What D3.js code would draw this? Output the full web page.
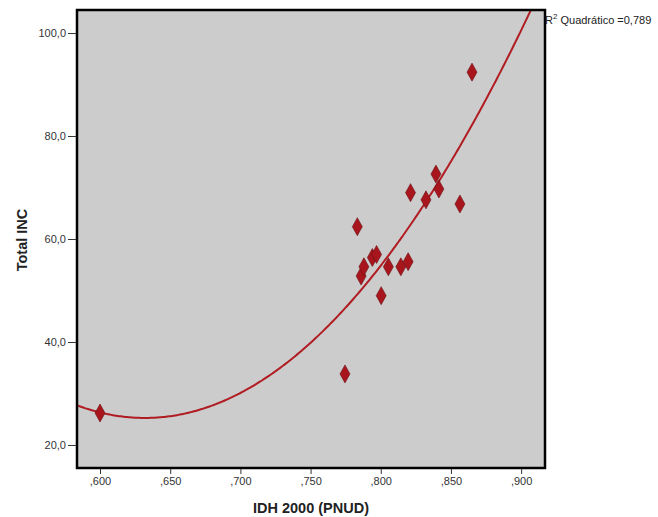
<!DOCTYPE html>
<html><head><meta charset="utf-8">
<script src="https://cdn.jsdelivr.net/npm/d3@7/dist/d3.min.js"></script>
<style>
body{margin:0;background:#fff;}
svg{display:block;font-family:"Liberation Sans",Arial,sans-serif;}
</style></head>
<body><svg id="c" width="658" height="517"></svg>
<script>
// Data
const idh = [0.600,0.7745,0.7833,0.786,0.788,0.794,0.797,0.8003,0.8054,0.8143,0.8195,0.8212,0.8322,0.8393,0.8414,0.8564,0.865];
const inc = [26.2,33.8,62.4,52.8,54.6,56.4,57.0,49.0,54.6,54.6,55.6,69.0,67.6,72.6,69.7,66.8,92.4];
const xTicks = [0.60,0.65,0.70,0.75,0.80,0.85,0.90];
const yTicks = [20,40,60,80,100];
const xTitle = "IDH 2000 (PNUD)";
const yTitle = "Total INC";
const r2Label = "0,789";

const svg = d3.select("#c");
const L=77,T=10,R=545,B=468;
const x = d3.scaleLinear().domain([0.5836,0.917]).range([L,R]);
const y = d3.scaleLinear().domain([15.53,104.47]).range([B,T]);

svg.append("rect").attr("x",L).attr("y",T).attr("width",R-L).attr("height",B-T).attr("fill","#cccccc");

// quadratic least squares fit
function fitQuad(xs,ys){
  let S=[[0,0,0],[0,0,0],[0,0,0]],V=[0,0,0];
  xs.forEach((xv,i)=>{const p=[1,xv,xv*xv];for(let a=0;a<3;a++){V[a]+=p[a]*ys[i];for(let b=0;b<3;b++)S[a][b]+=p[a]*p[b];}});
  // gaussian elimination
  const M=S.map((r,i)=>[...r,V[i]]);
  for(let i=0;i<3;i++){let mx=i;for(let k=i+1;k<3;k++)if(Math.abs(M[k][i])>Math.abs(M[mx][i]))mx=k;[M[i],M[mx]]=[M[mx],M[i]];
    for(let k=i+1;k<3;k++){const f=M[k][i]/M[i][i];for(let j=i;j<4;j++)M[k][j]-=f*M[i][j];}}
  const c=[0,0,0];for(let i=2;i>=0;i--){let s=M[i][3];for(let j=i+1;j<3;j++)s-=M[i][j]*c[j];c[i]=s/M[i][i];}
  return c;
}
const c = fitQuad(idh,inc);
const xs = d3.range(0,301).map(i=>x.domain()[0]+(x.domain()[1]-x.domain()[0])*i/300);
svg.append("clipPath").attr("id","clip").append("rect").attr("x",L).attr("y",T).attr("width",R-L).attr("height",B-T);
svg.append("path").attr("clip-path","url(#clip)")
  .attr("d",d3.line().x(d=>x(d)).y(d=>y(c[0]+c[1]*d+c[2]*d*d))(xs))
  .attr("fill","none").attr("stroke","#b01c22").attr("stroke-width",2);

// diamonds
const w=5,h=9;
svg.append("g").selectAll("path").data(idh).join("path")
  .attr("transform",(d,i)=>`translate(${x(d)},${y(inc[i])})`)
  .attr("d",`M0,${-h}L${w},0L0,${h}L${-w},0Z`)
  .attr("fill","#a8151d").attr("stroke","#6a1014").attr("stroke-width",0.6);

// border
svg.append("rect").attr("x",L).attr("y",T).attr("width",R-L).attr("height",B-T).attr("fill","none").attr("stroke","#000").attr("stroke-width",2.5);

// axes
const fmtX = d=>","+d3.format(".3f")(d).split(".")[1];
const fmtY = d=>d3.format(".1f")(d).replace(".",",");
const gx = svg.append("g").attr("transform",`translate(0,${B+1})`).call(d3.axisBottom(x).tickValues(xTicks).tickFormat(fmtX).tickSize(5).tickPadding(3));
const gy = svg.append("g").attr("transform",`translate(${L-1},0)`).call(d3.axisLeft(y).tickValues(yTicks).tickFormat(fmtY).tickSize(8).tickPadding(2));
[gx,gy].forEach(g=>{g.select(".domain").remove();g.selectAll("line").attr("stroke","#333");g.selectAll("text").attr("fill","#333").attr("font-size","11px").attr("font-family","Liberation Sans,Arial,sans-serif");});

svg.append("text").attr("x",(L+R)/2+0).attr("y",513).attr("text-anchor","middle").attr("font-weight","bold").attr("font-size","14.5px").attr("fill","#222").text(xTitle);
svg.append("text").attr("transform","translate(27,240) rotate(-90)").attr("text-anchor","middle").attr("font-weight","bold").attr("font-size","14.5px").attr("fill","#222").text(yTitle);

const t = svg.append("text").attr("x",545).attr("y",24).attr("font-size","11px").attr("fill","#222");
t.append("tspan").text("R");
t.append("tspan").attr("dy",-5).attr("font-size","8px").text("2");
t.append("tspan").attr("dy",5).text(" Quadrático ="+r2Label);
</script></body></html>
